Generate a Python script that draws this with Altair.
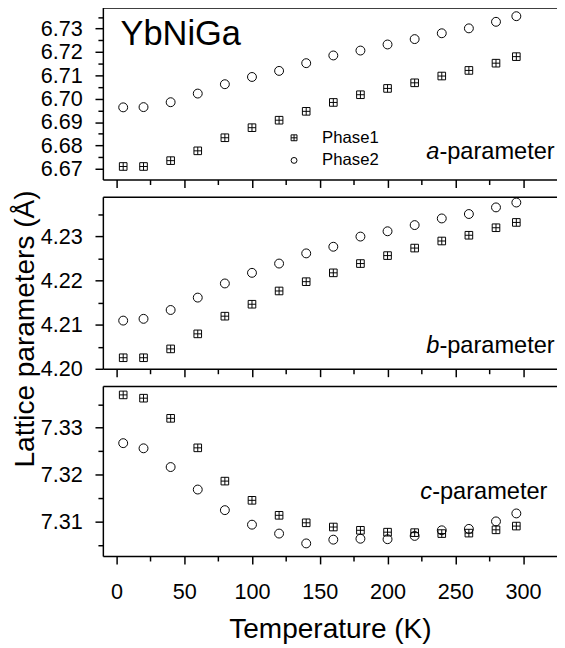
import altair as alt
import pandas as pd

# ---------------- data ----------------
T = [5, 20, 40, 60, 80, 100, 120, 140, 160, 180, 200, 220, 240, 260, 280, 295]

a_phase1 = [6.6710, 6.6710, 6.6735, 6.6777, 6.6833, 6.6876, 6.6908, 6.6946,
            6.6984, 6.7017, 6.7044, 6.7068, 6.7097, 6.7121, 6.7152, 6.7180]
a_phase2 = [6.6963, 6.6964, 6.6985, 6.7022, 6.7062, 6.7093, 6.7119, 6.7152,
            6.7185, 6.7206, 6.7232, 6.7255, 6.7280, 6.7301, 6.7329, 6.7353]

b_phase1 = [4.2025, 4.2025, 4.2045, 4.2079, 4.2119, 4.2146, 4.2176, 4.2197,
            4.2217, 4.2238, 4.2256, 4.2273, 4.2289, 4.2302, 4.2319, 4.2331]
b_phase2 = [4.2109, 4.2113, 4.2133, 4.2161, 4.2193, 4.2217, 4.2238, 4.2261,
            4.2276, 4.2299, 4.2311, 4.2325, 4.2340, 4.2350, 4.2365, 4.2376]

c_phase1 = [7.3370, 7.3363, 7.3320, 7.3257, 7.3186, 7.3145, 7.3113, 7.3097,
            7.3088, 7.3081, 7.3077, 7.3076, 7.3074, 7.3075, 7.3082, 7.3090]
c_phase2 = [7.3267, 7.3256, 7.3216, 7.3168, 7.3124, 7.3093, 7.3074, 7.3053,
            7.3061, 7.3063, 7.3062, 7.3069, 7.3081, 7.3084, 7.3100, 7.3117]

phases = ["Phase1", "Phase2"]

x_ticks = [0, 25, 50, 75, 100, 125, 150, 175, 200, 225, 250, 275, 300]
a_ticks = [6.670, 6.675, 6.680, 6.685, 6.690, 6.695, 6.700, 6.705,
           6.710, 6.715, 6.720, 6.725, 6.730, 6.735]
b_ticks = [4.200, 4.205, 4.210, 4.215, 4.220, 4.225, 4.230, 4.235]
c_ticks = [7.305, 7.310, 7.315, 7.320, 7.325, 7.330, 7.335]

compound = "YbNiGa"
x_title = "Temperature (K)"
y_title = "Lattice parameters (Å)"
param_suffix = "-parameter"

# ---------------- styling ----------------
FONT = "Liberation Sans"
SQUARE_PLUS = "M-1,-1H1V1H-1Z M0,-1V1 M-1,0H1"
X_DOMAIN = [-10, 325]
W = 462
LABEL_FS = 24
TITLE_FS = 28.5

x_scale = alt.Scale(domain=X_DOMAIN, nice=False, zero=False)
major_x = "datum.value % 50 === 0"
major_y = "abs(datum.value*100 - round(datum.value*100)) < 0.01"


def panel(p1, p2, ydomain, yticks, letter, lx, ly, height,
          legend=False, xlabels=False, ytitle=False, extra_text=None):
    df = pd.DataFrame({
        "T": T + T,
        "v": p1 + p2,
        "phase": [phases[0]] * len(T) + [phases[1]] * len(T),
    })
    y_scale = alt.Scale(domain=ydomain, nice=False, zero=False)
    shape_scale = alt.Scale(domain=phases, range=[SQUARE_PLUS, "circle"])

    x_axis = alt.Axis(
        orient="bottom", values=x_ticks, grid=False,
        labels=xlabels, labelPadding=18, titlePadding=13,
        labelExpr=f"{major_x} ? datum.label : ''",
        tickSize={"condition": {"test": major_x, "value": 8}, "value": 5},
        title=x_title if xlabels else None,
    )
    y_kwargs = dict(
        orient="left", values=yticks, grid=False, labelPadding=13,
        labelExpr=f"{major_y} ? format(datum.value, '.2f') : ''",
        tickSize={"condition": {"test": major_y, "value": 8}, "value": 5},
    )
    if ytitle:
        y_axis = alt.Axis(title=y_title, titleX=-65, titleY=134,
                          titleAngle=270, titleBaseline="bottom",
                          titleAlign="center", **y_kwargs)
    else:
        y_axis = alt.Axis(title=None, **y_kwargs)

    shape_enc = alt.Shape(
        "phase:N", scale=shape_scale,
        legend=alt.Legend(title=None, orient="none", legendX=186, legendY=124)
        if legend else None,
    )

    base = alt.Chart(df)
    l1 = base.transform_filter(alt.datum.phase == phases[0]).mark_point(
        filled=False, color="black", strokeWidth=1, size=60, opacity=1
    ).encode(
        x=alt.X("T:Q", scale=x_scale, axis=x_axis),
        y=alt.Y("v:Q", scale=y_scale, axis=y_axis),
        shape=shape_enc,
    )
    l2 = base.transform_filter(alt.datum.phase == phases[1]).mark_point(
        filled=False, color="black", strokeWidth=1, size=82, opacity=1
    ).encode(
        x=alt.X("T:Q", scale=x_scale,
                axis=alt.Axis(orient="top", ticks=False, labels=False,
                              title=None, grid=False)),
        y=alt.Y("v:Q", scale=y_scale, axis=y_axis),
        shape=shape_enc,
    )
    lab_df = pd.DataFrame({"t": [letter]})
    suf_df = pd.DataFrame({"t": [param_suffix]})
    t1 = alt.Chart(lab_df).mark_text(
        font=FONT, fontSize=LABEL_FS, fontStyle="italic", align="left",
        baseline="alphabetic", color="black"
    ).encode(x=alt.value(lx), y=alt.value(ly), text="t:N")
    adv = (0.5 if letter == "c" else 0.556) * LABEL_FS
    t2 = alt.Chart(suf_df).mark_text(
        font=FONT, fontSize=LABEL_FS, align="left", baseline="alphabetic",
        color="black"
    ).encode(x=alt.value(lx + adv), y=alt.value(ly), text="t:N")
    layers = [l1, l2, t1, t2]
    if extra_text is not None:
        layers.append(extra_text)
    return alt.layer(*layers).resolve_axis(x="independent").properties(
        width=W, height=height
    )


title_text = alt.Chart(pd.DataFrame({"t": [compound]})).mark_text(
    font=FONT, fontSize=35, align="left", baseline="alphabetic", color="black"
).encode(x=alt.value(18), y=alt.value(38.5), text="t:N")

top = panel(a_phase1, a_phase2, [6.6654, 6.7390], a_ticks, "a", 329, 154, 175,
            legend=True, extra_text=title_text)
mid = panel(b_phase1, b_phase2, [4.2000, 4.2389], b_ticks, "b", 329, 158.5, 175,
            ytitle=True)
bot = panel(c_phase1, c_phase2, [7.3026, 7.3389], c_ticks, "c", 323, 114.5, 173,
            xlabels=True)

chart = alt.vconcat(top, mid, bot, spacing=17.5, bounds="flush").resolve_scale(
    x="independent", y="independent", shape="independent"
).resolve_legend(shape="independent").properties(
    padding={"left": 1.5, "top": -6, "right": 0, "bottom": 0}
).configure_view(stroke=None).configure_axis(
    domainColor="black", domainWidth=1.5, tickColor="black", tickWidth=1.5,
    labelColor="black", titleColor="black", labelFont=FONT, titleFont=FONT,
    labelFontSize=22, titleFontSize=TITLE_FS, titleFontWeight="normal",
).configure_legend(
    labelFont=FONT, labelFontSize=17, labelColor="black", padding=0,
    symbolSize=36, symbolStrokeWidth=1, symbolStrokeColor="black",
    labelOffset=20, rowPadding=5,
)

chart.save("out.html", embed_options={"renderer": "svg", "actions": False})
